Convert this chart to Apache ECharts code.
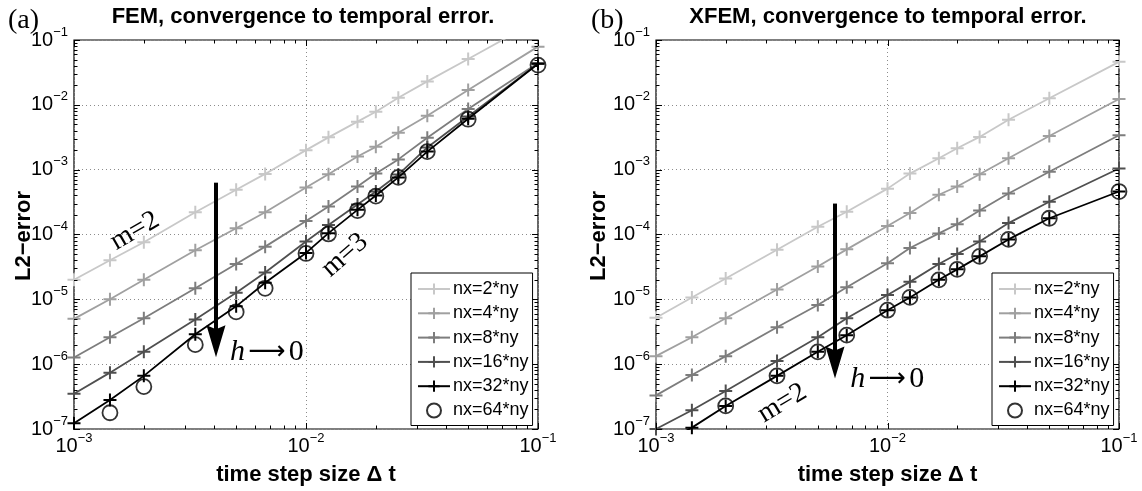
<!DOCTYPE html>
<html><head><meta charset="utf-8">
<script src="https://cdn.jsdelivr.net/npm/echarts@6/dist/echarts.min.js"></script>
<style>html,body{margin:0;padding:0;background:#fff}#c{width:1142px;height:491px}</style>
</head><body><div id="c"></div>
<script>
// ---------- data ----------
const dt = [0.001, 0.001429, 0.002, 0.003333, 0.005, 0.006667, 0.01, 0.0125, 0.01667, 0.02, 0.025, 0.03333, 0.05, 0.1];
const seriesNames = ['nx=2*ny', 'nx=4*ny', 'nx=8*ny', 'nx=16*ny', 'nx=32*ny', 'nx=64*ny'];

const femNx2  = [2.0e-5, 4.0e-5, 7.6e-5, 2.2e-4, 4.9e-4, 8.6e-4, 2.0e-3, 3.15e-3, 5.5e-3, 7.8e-3, 1.29e-2, 2.3e-2, 5.1e-2, 2.0e-1];
const femNx4  = [5.0e-6, 1.0e-5, 2.0e-5, 5.7e-5, 1.25e-4, 2.2e-4, 5.3e-4, 8.5e-4, 1.6e-3, 2.25e-3, 3.7e-3, 6.8e-3, 1.69e-2, 7.9e-2];
const femNx8  = [1.27e-6, 2.6e-6, 5.1e-6, 1.48e-5, 3.5e-5, 6.5e-5, 1.62e-4, 2.7e-4, 5.5e-4, 8.7e-4, 1.44e-3, 3.1e-3, 8.6e-3, 4.4e-2];
const femNx16 = [3.5e-7, 7.4e-7, 1.55e-6, 4.9e-6, 1.26e-5, 2.6e-5, 7.8e-5, 1.4e-4, 2.9e-4, 4.6e-4, 8.4e-4, 2.2e-3, 6.6e-3, 4.3e-2];
const femNx32 = [1.23e-7, 2.8e-7, 6.6e-7, 2.9e-6, 7.8e-6, 1.8e-5, 5.2e-5, 1.05e-4, 2.4e-4, 4.0e-4, 7.6e-4, 1.9e-3, 6.1e-3, 4.3e-2];
const femNx64 = [null, 1.78e-7, 4.5e-7, 2.0e-6, 6.4e-6, 1.48e-5, 5.1e-5, 1.02e-4, 2.34e-4, 3.9e-4, 7.6e-4, 1.9e-3, 6.0e-3, 4.1e-2];

const xfemNx2  = [5.2e-6, 1.07e-5, 2.09e-5, 5.8e-5, 1.32e-4, 2.24e-4, 5.1e-4, 8.7e-4, 1.5e-3, 2.14e-3, 3.2e-3, 5.9e-3, 1.26e-2, 4.6e-2];
const xfemNx4  = [1.33e-6, 2.6e-6, 5.1e-6, 1.42e-5, 3.2e-5, 5.9e-5, 1.35e-4, 2.14e-4, 4.1e-4, 5.5e-4, 8.5e-4, 1.5e-3, 3.3e-3, 1.23e-2];
const xfemNx8  = [3.3e-7, 6.8e-7, 1.33e-6, 3.7e-6, 8.2e-6, 1.54e-5, 3.6e-5, 6.2e-5, 1.04e-4, 1.44e-4, 2.34e-4, 4.3e-4, 9.3e-4, 3.4e-3];
const xfemNx16 = [1.0e-7, 1.95e-7, 3.85e-7, 1.12e-6, 2.6e-6, 5.1e-6, 1.17e-5, 1.86e-5, 3.5e-5, 5.0e-5, 7.8e-5, 1.5e-4, 3.2e-4, 1.04e-3];
const xfemNx32 = [5.2e-8, 1.05e-7, 2.27e-7, 6.6e-7, 1.55e-6, 2.8e-6, 6.8e-6, 1.07e-5, 2.0e-5, 2.9e-5, 4.6e-5, 8.4e-5, 1.78e-4, 4.6e-4];
const xfemNx64 = [null, null, 2.27e-7, 6.6e-7, 1.55e-6, 2.8e-6, 6.8e-6, 1.07e-5, 2.0e-5, 2.9e-5, 4.6e-5, 8.4e-5, 1.78e-4, 4.6e-4];

const xRange = [1e-3, 1e-1];
const yRange = [1e-7, 1e-1];
const xMajorTicks = [1e-3, 1e-2, 1e-1];
const yMajorTicks = [1e-7, 1e-6, 1e-5, 1e-4, 1e-3, 1e-2, 1e-1];
const minorMultipliers = [2, 3, 4, 5, 6, 7, 8, 9];

const titles = ['FEM, convergence to temporal error.', 'XFEM, convergence to temporal error.'];
const panelTags = ['(a)', '(b)'];
const xLabel = 'time step size \u0394 t';
const yLabel = 'L2\u2212error';

// annotations anchored in data space: [dt, error]
const arrowsFrom = [[4.11e-3, 6.3e-4], [5.94e-3, 3.0e-4]];
const arrowsTo   = [[4.11e-3, 1.28e-6], [5.94e-3, 6.0e-7]];
const slopeNotes = [
  {panel: 0, at: [1.83e-3, 1.13e-4], text: 'm=2', angle: 30},
  {panel: 0, at: [1.47e-2, 4.8e-5], text: 'm=3', angle: 41},
  {panel: 1, at: [3.51e-3, 2.5e-7], text: 'm=2', angle: 31}
];
const hNotes = [[4.7e-3, 1.55e-6], [6.9e-3, 5.9e-7]];

// ---------- styling ----------
const SANS = 'Liberation Sans, Arial, Helvetica, sans-serif';
const SERIF = 'Liberation Serif, Times New Roman, serif';
const colors = ['#c8c8c8', '#a0a0a0', '#7d7d7d', '#4f4f4f', '#000000', '#000000'];
const PLUS = 'path://M5,0L5,10M0,5L10,5';
const grids = [
  {left: 74, top: 40, width: 464, height: 389},
  {left: 656, top: 40, width: 463, height: 389}
];
const legendBoxes = [{left: 411, top: 273}, {left: 992, top: 273}];

const panels = [
  [femNx2, femNx4, femNx8, femNx16, femNx32, femNx64],
  [xfemNx2, xfemNx4, xfemNx8, xfemNx16, xfemNx32, xfemNx64]
];

function expLabel(v) {
  const e = Math.round(Math.log10(v));
  return '{b|10}{e|' + (e < 0 ? '\u2212' + (-e) : e) + '}';
}
const richLab = {
  b: {fontSize: 20, fontFamily: SANS, color: '#000', lineHeight: 22},
  e: {fontSize: 13, fontFamily: SANS, color: '#000', lineHeight: 14, padding: [0, 0, 16, 0]}
};

const xAxes = [], yAxes = [], series = [], legends = [];
for (let g = 0; g < 2; g++) {
  xAxes.push({
    type: 'log', logBase: 10, gridIndex: g, min: xRange[0], max: xRange[1], splitNumber: 2,
    axisLine: {show: false}, axisTick: {show: false},
    splitLine: {show: true, lineStyle: {color: '#8c8c8c', width: 1, type: [1, 3]}},
    axisLabel: {formatter: expLabel, rich: richLab, margin: 6, showMinLabel: true, showMaxLabel: true}
  });
  yAxes.push({
    type: 'log', logBase: 10, gridIndex: g, min: yRange[0], max: yRange[1], splitNumber: 6,
    axisLine: {show: false}, axisTick: {show: false},
    splitLine: {show: true, lineStyle: {color: '#8c8c8c', width: 1, type: [1, 3]}},
    axisLabel: {formatter: expLabel, rich: richLab, margin: 6, showMinLabel: true, showMaxLabel: true}
  });
  const vals = panels[g];
  for (let s = 0; s < 6; s++) {
    const pts = [];
    dt.forEach((x, i) => { if (vals[s][i] !== null) pts.push([x, vals[s][i]]); });
    if (s < 5) {
      series.push({
        type: 'line', name: seriesNames[s], xAxisIndex: g, yAxisIndex: g, data: pts,
        symbol: PLUS, symbolSize: 13, showSymbol: true, clip: true, z: 3 + s,
        lineStyle: {color: colors[s], width: 1.8},
        itemStyle: {color: colors[s], borderColor: colors[s], borderWidth: 2},
        emphasis: {disabled: true}, animation: false
      });
    } else {
      series.push({
        type: 'scatter', name: seriesNames[s], xAxisIndex: g, yAxisIndex: g, data: pts,
        symbol: 'circle', symbolSize: 15, clip: true, z: 10,
        itemStyle: {color: 'rgba(0,0,0,0)', borderColor: '#000', borderWidth: 1.8},
        emphasis: {disabled: true}, animation: false
      });
    }
  }
  // h -> 0 arrow, drawn through the axes' scales
  series.push({
    type: 'custom', name: 'arrow' + g, xAxisIndex: g, yAxisIndex: g, silent: true, clip: false, z: 25,
    data: [[arrowsFrom[g][0], arrowsFrom[g][1], arrowsTo[g][1]]], encode: {x: 0, y: 1}, animation: false,
    renderItem: function (params, api) {
      const a = api.coord([api.value(0), api.value(1)]);
      const b = api.coord([api.value(0), api.value(2)]);
      const hl = 32, hw = 9.5;
      const x = Math.round(a[0]);
      return {type: 'group', children: [
        {type: 'line', shape: {x1: x, y1: a[1], x2: x, y2: b[1] - hl + 6}, style: {stroke: '#000', lineWidth: 4}},
        {type: 'polygon', shape: {points: [[x, b[1]], [x - hw, b[1] - hl], [x, b[1] - hl + 4], [x + hw, b[1] - hl]]}, style: {fill: '#000'}}
      ]};
    }
  });
  // tick marks on all four sides (major at decades, minor at 2..9)
  const tickData = [];
  for (let i = 0; i < xMajorTicks.length; i++) {
    tickData.push([xMajorTicks[i], yRange[0], 0, 1]);
    if (i < xMajorTicks.length - 1) minorMultipliers.forEach(m => tickData.push([xMajorTicks[i] * m, yRange[0], 0, 0]));
  }
  for (let i = 0; i < yMajorTicks.length; i++) {
    tickData.push([xRange[0], yMajorTicks[i], 1, 1]);
    if (i < yMajorTicks.length - 1) minorMultipliers.forEach(m => tickData.push([xRange[0], yMajorTicks[i] * m, 1, 0]));
  }
  series.push({
    type: 'custom', name: 'ticks' + g, xAxisIndex: g, yAxisIndex: g, silent: true, clip: false, z: 20,
    data: tickData, encode: {x: 0, y: 1}, animation: false,
    renderItem: function (params, api) {
      const kind = api.value(2), major = api.value(3);
      const len = major ? 6 : 3.5;
      const st = {stroke: '#000', lineWidth: 1};
      if (kind === 0) {
        const v = api.value(0);
        const a = api.coord([v, yRange[0]]), b = api.coord([v, yRange[1]]);
        const x = Math.round(a[0]) + 0.5;
        return {type: 'group', children: [
          {type: 'line', shape: {x1: x, y1: a[1], x2: x, y2: a[1] - len}, style: st},
          {type: 'line', shape: {x1: x, y1: b[1], x2: x, y2: b[1] + len}, style: st}
        ]};
      } else {
        const v = api.value(1);
        const a = api.coord([xRange[0], v]), b = api.coord([xRange[1], v]);
        const y = Math.round(a[1]) + 0.5;
        return {type: 'group', children: [
          {type: 'line', shape: {x1: a[0], y1: y, x2: a[0] + len, y2: y}, style: st},
          {type: 'line', shape: {x1: b[0], y1: y, x2: b[0] - len, y2: y}, style: st}
        ]};
      }
    }
  });
  legends.push({
    orient: 'vertical', left: legendBoxes[g].left, top: legendBoxes[g].top,
    padding: [6, 4, 5, 6], itemWidth: 32, itemHeight: 14, itemGap: 4.3,
    backgroundColor: '#fff', borderColor: '#000', borderWidth: 1, borderRadius: 0,
    selectedMode: false, data: seriesNames, z: 30,
    textStyle: {fontSize: 18, fontFamily: SANS, color: '#000', lineHeight: 20, padding: [0, 0, 0, -2]}
  });
}

const chart = echarts.init(document.getElementById('c'), null, {renderer: 'canvas'});
chart.setOption({
  animation: false,
  backgroundColor: '#fff',
  grid: grids.map(g => Object.assign({show: true, borderColor: '#000', borderWidth: 1.2, backgroundColor: 'transparent', containLabel: false}, g)),
  xAxis: xAxes, yAxis: yAxes, series: series, legend: legends
});

// ---------- texts ----------
const graphics = [];
const titleCenters = [303, 888];
const yLabelX = [24, 599];
const tagX = [8, 591];
for (let g = 0; g < 2; g++) {
  graphics.push({type: 'text', x: titleCenters[g], y: 17, z: 40,
    style: {text: titles[g], font: 'bold 22px ' + SANS, fill: '#000', textAlign: 'center', textVerticalAlign: 'middle'}});
  graphics.push({type: 'text', x: tagX[g], y: 21, z: 40,
    style: {text: panelTags[g], font: '28px ' + SERIF, fill: '#000', textAlign: 'left', textVerticalAlign: 'middle'}});
  graphics.push({type: 'text', x: grids[g].left + grids[g].width / 2, y: 475, z: 40,
    style: {text: xLabel, font: 'bold 22px ' + SANS, fill: '#000', textAlign: 'center', textVerticalAlign: 'middle'}});
  graphics.push({type: 'text', x: yLabelX[g], y: 236, rotation: Math.PI / 2, z: 40,
    style: {text: yLabel, font: 'bold 22px ' + SANS, fill: '#000', textAlign: 'center', textVerticalAlign: 'middle'}});
  const hp = chart.convertToPixel({gridIndex: g}, hNotes[g]);
  graphics.push({type: 'text', x: hp[0], y: hp[1], z: 40,
    style: {text: '{h|h} {a|\u27F6} {z|0}', textAlign: 'left', textVerticalAlign: 'middle',
      rich: {
        h: {font: 'italic 30px ' + SERIF, fill: '#000'},
        a: {font: '26px DejaVu Sans', fill: '#000'},
        z: {font: '30px ' + SERIF, fill: '#000'}
      }}});
}
slopeNotes.forEach(n => {
  const p = chart.convertToPixel({gridIndex: n.panel}, n.at);
  graphics.push({type: 'text', x: p[0], y: p[1], rotation: n.angle * Math.PI / 180, z: 40,
    style: {text: n.text, font: '28px ' + SERIF, fill: '#000', textAlign: 'center', textVerticalAlign: 'middle'}});
});
chart.setOption({graphic: graphics});
</script></body></html>
